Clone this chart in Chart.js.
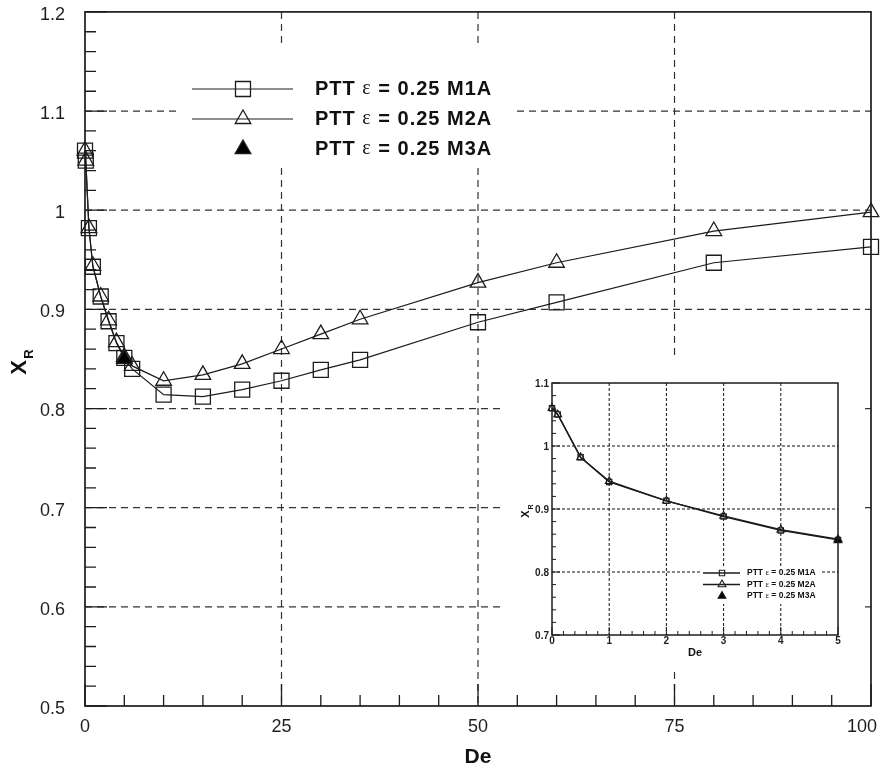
<!DOCTYPE html>
<html>
<head>
<meta charset="utf-8">
<title>X_R versus De</title>
<script src="https://cdn.jsdelivr.net/npm/chart.js@4.4.1/dist/chart.umd.min.js"></script>
<style>
  html, body { margin: 0; padding: 0; background: #fff; }
  #wrap { position: relative; width: 883px; height: 772px; }
  #inset-box { position: absolute; left: 504px; top: 358px; width: 358px; height: 312px; background: #fff; }
  canvas { display: block; }
</style>
</head>
<body>
<div id="wrap">
  <canvas id="main-graph" width="883" height="772"></canvas>
  <div id="inset-box"><canvas id="inset-graph" width="358" height="312"></canvas></div>
</div>
<script>
// Deborah numbers and recirculation length X_R
const deValues = [0, 0.1, 0.5, 1, 2, 3, 4, 5, 6, 10, 15, 20, 25, 30, 35, 50, 60, 80, 100];
const xrM1A = [1.06, 1.05, 0.982, 0.943, 0.913, 0.888, 0.866, 0.851, 0.840, 0.814, 0.812, 0.819, 0.828, 0.839, 0.849, 0.887, 0.907, 0.947, 0.963];
const xrM2A = [1.06, 1.05, 0.982, 0.944, 0.913, 0.889, 0.867, 0.852, 0.843, 0.828, 0.834, 0.845, 0.860, 0.875, 0.890, 0.927, 0.947, 0.979, 0.998];
const deM3A = [5];
const xrM3A = [0.85];

const seriesLabels = ['PTT ε = 0.25 M1A', 'PTT ε = 0.25 M2A', 'PTT ε = 0.25 M3A'];

const mainXTicks = [0, 25, 50, 75, 100];
const mainYTicks = [0.5, 0.6, 0.7, 0.8, 0.9, 1, 1.1, 1.2];
const insetXTicks = [0, 1, 2, 3, 4, 5];
const insetYTicks = [0.7, 0.8, 0.9, 1, 1.1];

const SANS = '"Liberation Sans", Arial, Helvetica, sans-serif';
const SERIF = '"Liberation Serif", "Times New Roman", serif';
const INK = '#1c1c1c';

function toPoints(xs, ys, maxX) {
    return xs.map((x, i) => ({x: x, y: ys[i]})).filter(p => p.x <= maxX);
}

function tickLabel(v) {
    return String(+v.toFixed(2));
}

// same geometry as chart.js rect / triangle point styles
function drawMarker(ctx, style, x, y, r, fill, width) {
    ctx.save();
    ctx.setLineDash([]);
    ctx.lineWidth = width;
    ctx.strokeStyle = INK;
    ctx.beginPath();
    if (style === 'rect') {
        const s = Math.SQRT1_2 * r;
        ctx.rect(x - s, y - s, 2 * s, 2 * s);
    } else {
        ctx.moveTo(x, y - r);
        ctx.lineTo(x + 0.866 * r, y + r / 2);
        ctx.lineTo(x - 0.866 * r, y + r / 2);
        ctx.closePath();
    }
    if (fill && fill !== 'transparent') {
        ctx.fillStyle = fill;
        ctx.fill();
    }
    ctx.stroke();
    ctx.restore();
}

function drawLegend(chart, lg) {
    const ctx = chart.ctx;
    ctx.save();
    ctx.fillStyle = '#fff';
    ctx.fillRect(lg.box[0], lg.box[1], lg.box[2], lg.box[3]);
    chart.data.datasets.forEach((ds, i) => {
        const yy = lg.y0 + i * lg.dy;
        if (ds.showLine !== false) {
            ctx.setLineDash([]);
            ctx.strokeStyle = INK;
            ctx.lineWidth = ds.borderWidth;
            ctx.beginPath();
            ctx.moveTo(lg.x0, yy);
            ctx.lineTo(lg.x1, yy);
            ctx.stroke();
        }
        drawMarker(ctx, ds.pointStyle, lg.mx, yy, ds.pointRadius, ds.pointBackgroundColor, ds.pointBorderWidth);

        // label, with the epsilon set in a serif face
        const parts = ds.label.split('ε');
        let tx = lg.tx;
        ctx.fillStyle = '#111';
        ctx.textAlign = 'left';
        ctx.textBaseline = 'middle';
        ctx.letterSpacing = lg.spacing || '0px';
        ctx.font = lg.font;
        ctx.fillText(parts[0], tx, yy);
        tx += ctx.measureText(parts[0]).width;
        ctx.font = lg.epsFont;
        ctx.fillText('ε', tx, yy);
        tx += ctx.measureText('ε').width;
        ctx.font = lg.font;
        ctx.fillText(parts[1], tx, yy);
    });
    ctx.restore();
}

function drawInwardTicks(ctx, scale, minorStep, o, a, horizontal) {
    const n = Math.round((scale.max - scale.min) / minorStep);
    ctx.beginPath();
    for (let i = 0; i <= n; i++) {
        const v = scale.min + i * minorStep;
        const isMajor = scale.ticks.some(t => Math.abs(t.value - v) < minorStep / 10);
        const len = isMajor ? o.majorLen : o.minorLen;
        const p = scale.getPixelForValue(v);
        if (horizontal) {
            ctx.moveTo(p, a.bottom);
            ctx.lineTo(p, a.bottom - len);
        } else {
            ctx.moveTo(a.left, p);
            ctx.lineTo(a.left + len, p);
        }
    }
    ctx.stroke();
}

const plotDecor = {
    id: 'plotDecor',

    beforeDatasetsDraw(chart, args, o) {
        const {ctx, chartArea: a, scales: {x, y}} = chart;
        ctx.save();
        ctx.strokeStyle = o.gridColor;
        ctx.lineWidth = o.gridWidth;
        ctx.setLineDash(o.gridDash);
        ctx.beginPath();
        x.ticks.forEach(t => {
            if (t.value > x.min && t.value < x.max) {
                const px = x.getPixelForValue(t.value);
                ctx.moveTo(px, a.top);
                ctx.lineTo(px, a.bottom);
            }
        });
        y.ticks.forEach(t => {
            if (t.value > y.min && t.value < y.max) {
                const py = y.getPixelForValue(t.value);
                ctx.moveTo(a.left, py);
                ctx.lineTo(a.right, py);
            }
        });
        ctx.stroke();
        ctx.restore();

        drawLegend(chart, o.legend);
    },

    afterDatasetsDraw(chart, args, o) {
        const {ctx, chartArea: a, scales: {x, y}} = chart;
        ctx.save();
        ctx.setLineDash([]);
        ctx.strokeStyle = INK;
        ctx.lineWidth = o.frameWidth;
        ctx.strokeRect(a.left, a.top, a.right - a.left, a.bottom - a.top);

        ctx.lineWidth = o.tickWidth;
        drawInwardTicks(ctx, x, o.xMinor, o, a, true);
        drawInwardTicks(ctx, y, o.yMinor, o, a, false);

        // x tick labels, kept inside the canvas at the right edge
        if (o.xLabels) {
            ctx.fillStyle = '#1e1e1e';
            ctx.font = o.xLabels.font;
            ctx.textAlign = 'center';
            ctx.textBaseline = 'middle';
            x.ticks.forEach(t => {
                const txt = tickLabel(t.value);
                const w = ctx.measureText(txt).width;
                const px = Math.min(x.getPixelForValue(t.value), chart.width - o.xLabels.edge - w / 2);
                ctx.fillText(txt, px, a.bottom + o.xLabels.offset);
            });
        }

        // axis titles
        ctx.fillStyle = '#111';
        ctx.textAlign = 'center';
        ctx.textBaseline = 'middle';
        ctx.font = o.xTitle.font;
        ctx.fillText(o.xTitle.text, (a.left + a.right) / 2, a.bottom + o.xTitle.offset);

        ctx.translate(o.yTitle.x, (a.top + a.bottom) / 2 + o.yTitle.dy);
        ctx.rotate(-Math.PI / 2);
        ctx.font = o.yTitle.font;
        ctx.fillText(o.yTitle.text, 0, 0);
        ctx.font = o.yTitle.subFont;
        ctx.fillText(o.yTitle.sub, o.yTitle.subDx, o.yTitle.subDy);
        ctx.restore();
    }
};

function buildDatasets(maxX, sizes) {
    return [
        {
            label: seriesLabels[0],
            data: toPoints(deValues, xrM1A, maxX),
            borderColor: INK,
            borderWidth: sizes.line,
            pointStyle: 'rect',
            pointRadius: sizes.rect,
            pointBorderWidth: sizes.marker,
            pointBorderColor: INK,
            pointBackgroundColor: 'transparent',
            showLine: true,
            clip: false,
            order: 2
        },
        {
            label: seriesLabels[1],
            data: toPoints(deValues, xrM2A, maxX),
            borderColor: INK,
            borderWidth: sizes.line,
            pointStyle: 'triangle',
            pointRadius: sizes.tri,
            pointBorderWidth: sizes.marker,
            pointBorderColor: INK,
            pointBackgroundColor: 'transparent',
            showLine: true,
            clip: false,
            order: 1
        },
        {
            label: seriesLabels[2],
            data: toPoints(deM3A, xrM3A, maxX),
            borderColor: INK,
            borderWidth: sizes.line,
            pointStyle: 'triangle',
            pointRadius: sizes.tri,
            pointBorderWidth: sizes.marker,
            pointBorderColor: INK,
            pointBackgroundColor: '#000',
            showLine: false,
            clip: false,
            order: 0
        }
    ];
}

function buildScales(xTicks, yTicks, dims) {
    return {
        x: {
            type: 'linear',
            min: xTicks[0],
            max: xTicks[xTicks.length - 1],
            afterBuildTicks: s => { s.ticks = xTicks.map(v => ({value: v})); },
            afterFit: s => { s.height = dims.xHeight; s.paddingLeft = 0; s.paddingRight = 0; },
            grid: {display: false, drawTicks: false},
            border: {display: false},
            ticks: {
                display: dims.xBuiltIn,
                padding: dims.xPad,
                maxRotation: 0,
                autoSkip: false,
                color: '#1e1e1e',
                font: dims.tickFont,
                callback: tickLabel
            }
        },
        y: {
            type: 'linear',
            min: yTicks[0],
            max: yTicks[yTicks.length - 1],
            afterBuildTicks: s => { s.ticks = yTicks.map(v => ({value: v})); },
            afterFit: s => { s.width = dims.yWidth; s.paddingTop = 0; s.paddingBottom = 0; },
            grid: {display: false, drawTicks: false},
            border: {display: false},
            ticks: {
                padding: dims.yPad,
                labelOffset: dims.yShift,
                autoSkip: false,
                color: '#1e1e1e',
                font: dims.tickFont,
                callback: tickLabel
            }
        }
    };
}

const mainGraph = new Chart(document.getElementById('main-graph'), {
    type: 'line',
    data: {datasets: buildDatasets(Infinity, {line: 1.2, marker: 1.3, rect: 10.6, tri: 9})},
    options: {
        responsive: false,
        animation: false,
        events: [],
        layout: {padding: {top: 9, right: 12, left: 0, bottom: 0}},
        elements: {line: {tension: 0}},
        scales: buildScales(mainXTicks, mainYTicks, {
            xHeight: 66, yWidth: 85, xPad: 10, yPad: 20, yShift: 3, xBuiltIn: false,
            tickFont: {family: SANS, size: 18}
        }),
        plugins: {
            legend: {display: false},
            tooltip: {enabled: false},
            plotDecor: {
                gridColor: '#333', gridWidth: 1.2, gridDash: [7, 5],
                frameWidth: 1.7, tickWidth: 1.3,
                majorLen: 22, minorLen: 11,
                xMinor: 5, yMinor: 0.02,
                xLabels: {font: '18px ' + SANS, offset: 21, edge: 6},
                xTitle: {text: 'De', font: 'bold 21px ' + SANS, offset: 51},
                yTitle: {text: 'X', sub: 'R', x: 19.5, dy: 8.5, subDx: 13.5, subDy: 10,
                         font: 'bold 22px ' + SANS, subFont: 'bold 13px ' + SANS},
                legend: {
                    box: [178, 44, 338, 120],
                    x0: 192, x1: 293, mx: 243, tx: 315, y0: 89, dy: 30,
                    font: 'bold 20px ' + SANS, epsFont: '20px ' + SERIF, spacing: '1px'
                }
            }
        }
    },
    plugins: [plotDecor]
});

const insetGraph = new Chart(document.getElementById('inset-graph'), {
    type: 'line',
    data: {datasets: buildDatasets(insetXTicks[insetXTicks.length - 1], {line: 1.4, marker: 1.1, rect: 3.8, tri: 4.5})},
    options: {
        responsive: false,
        animation: false,
        events: [],
        layout: {padding: {top: 25, right: 24, left: 0, bottom: 0}},
        elements: {line: {tension: 0}},
        scales: buildScales(insetXTicks, insetYTicks, {
            xHeight: 35, yWidth: 48, xPad: 0, yPad: 3, yShift: 1, xBuiltIn: true,
            tickFont: {family: SANS, size: 10, weight: 'bold'}
        }),
        plugins: {
            legend: {display: false},
            tooltip: {enabled: false},
            plotDecor: {
                gridColor: '#111', gridWidth: 1, gridDash: [3, 2],
                frameWidth: 1.5, tickWidth: 1,
                majorLen: 8, minorLen: 4,
                xMinor: 0.2, yMinor: 0.02,
                xTitle: {text: 'De', font: 'bold 11px ' + SANS, offset: 17.5},
                yTitle: {text: 'X', sub: 'R', x: 22, dy: 5, subDx: 7, subDy: 5,
                         font: 'bold 11px ' + SANS, subFont: 'bold 7px ' + SANS},
                legend: {
                    box: [196, 208, 120, 38],
                    x0: 199, x1: 236, mx: 218, tx: 243, y0: 215, dy: 11.5,
                    font: 'bold 8.5px ' + SANS, epsFont: '8.5px ' + SERIF
                }
            }
        }
    },
    plugins: [plotDecor]
});
</script>
</body>
</html>
